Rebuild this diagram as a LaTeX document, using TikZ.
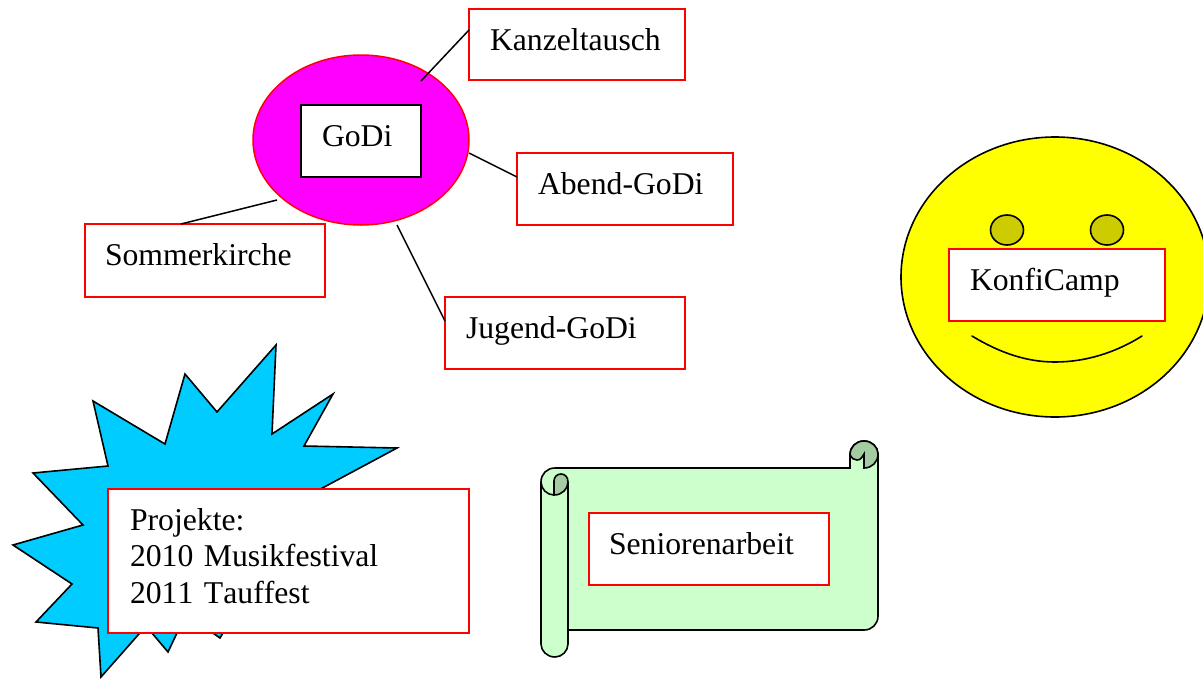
\documentclass[tikz,border=0pt]{standalone}
\usepackage{fontspec}
\setmainfont[Kerning=Off,WordSpace=0.8]{Liberation Serif}
\usetikzlibrary{shapes.geometric}
\definecolor{starblue}{HTML}{00CCFF}
\definecolor{scrollgreen}{HTML}{CCFFCC}
\definecolor{scrolldark}{HTML}{A3CCA3}
\definecolor{eyeolive}{HTML}{CCCC00}
\definecolor{ovalmagenta}{HTML}{FF00FF}
\definecolor{faceyellow}{HTML}{FFFF00}
\definecolor{boxred}{HTML}{FF0000}
\tikzset{
  labelbox/.style n args={3}{rectangle,draw=#3,line width=1.6pt,fill=white,inner ysep=0pt,inner xsep=21pt,outer sep=0pt,
    anchor=north west,align=left,text width=#1pt-42pt,text height=41pt,text depth=#2pt-41pt,
    font=\fontsize{31.7}{36.7}\selectfont},
  outline/.style={draw=black,line width=1.6pt,line join=miter},
  link/.style={draw=black,line width=1.5pt},
  oval/.style={ellipse,inner sep=0pt,outer sep=0pt},
}
\begin{document}
\begin{tikzpicture}[x=1pt,y=-1pt]
\useasboundingbox (0,0) rectangle (1203,678);
% burst
\path[outline,fill=starblue] (276,345) -- (272,434) -- (333,394) -- (304,446) -- (397,448) -- (300,500) -- (360,560) -- (260,570) -- (220,638) -- (186,614) -- (168,652) -- (146,626) -- (101,677) -- (98,628) -- (36,622) -- (72,584) -- (13,545) -- (83,525) -- (33,473) -- (108,466) -- (93,401) -- (165,444) -- (185,374) -- (217,412) -- cycle;
% scroll
\path[outline,fill=scrollgreen] (568,630) -- (864,630) .. controls (872,630) and (878,624) .. (878,616) -- (878,454) .. controls (878,447) and (872,441) .. (864,441) .. controls (856,441) and (850,447) .. (850,454) -- (850,468) -- (555,468) .. controls (547,468) and (541,474) .. (541,482) -- (541,644) .. controls (541,651) and (547,657) .. (555,657) .. controls (562,657) and (568,651) .. (568,644) -- cycle;
\path[outline,fill=scrolldark] (554,495) -- (554,481) .. controls (554,477) and (557,474) .. (561,474) .. controls (565,474) and (568,477) .. (568,482) .. controls (568,489) and (562,495) .. (554,495) -- cycle;
\path[outline] (541,482) .. controls (541,489) and (547,495) .. (554,495);
\path[outline] (568,482) -- (568,630);
\path[outline,fill=scrolldark] (850,455) .. controls (850,447) and (856,441) .. (864,441) .. controls (872,441) and (878,447) .. (878,454) .. controls (878,462) and (872,468) .. (864,468) -- (864,454) .. controls (862,457) and (861,460) .. (857,460) .. controls (854,460) and (851,458) .. (850,455) -- cycle;
% smiley
\node[oval,outline,fill=faceyellow,minimum width=308pt,minimum height=280pt] (face) at (1055,277) {};
\node[oval,outline,fill=eyeolive,minimum width=33pt,minimum height=30pt] (eyeL) at (1007,230) {};
\node[oval,outline,fill=eyeolive,minimum width=33pt,minimum height=30pt] (eyeR) at (1107,230) {};
\path[outline,line cap=round] (972,336) .. controls (1000,353) and (1027,362) .. (1055,362) .. controls (1085,362) and (1115,353) .. (1142,336);
% GoDi oval
\node[oval,draw=boxred,line width=1.5pt,fill=ovalmagenta,minimum width=216pt,minimum height=170pt] (godiOval) at (361,140) {};
\node[labelbox={120}{72}{black}] (godi) at (301,105) {GoDi};
\node[labelbox={216}{71}{boxred}] (kanzel) at (469,9) {Kanzeltausch};
\node[labelbox={216}{72}{boxred}] (abend) at (517,153) {Abend-GoDi};
\node[labelbox={240}{73}{boxred}] (sommer) at (85,224) {\hspace*{-1pt}Sommerkirche};
\node[labelbox={240}{72}{boxred}] (jugend) at (445,297) {Jugend-GoDi};
\node[labelbox={216}{72}{boxred}] (konfi) at (949,249) {KonfiCamp};
\node[labelbox={361}{144}{boxred}] (projekte) at (108,489) {\hspace*{1pt}Projekte:\\\hspace*{1pt}2010 Musikfestival\\\hspace*{1pt}2011 Tauffest};
\node[labelbox={240}{72}{boxred}] (senior) at (589,513) {\hspace*{-1pt}Seniorenarbeit};
% connectors
\coordinate (c1) at (421,81);
\coordinate (c2) at (469,153);
\coordinate (c3) at (277,200);
\coordinate (c4) at (397,225);
\draw[link] ([yshift=14.5pt]kanzel.west) -- (c1);
\draw[link] ([yshift=12pt]abend.west) -- (c2);
\draw[link] ([xshift=-24pt]sommer.north) -- (c3);
\draw[link] ([yshift=12pt]jugend.west) -- (c4);
\end{tikzpicture}
\end{document}
